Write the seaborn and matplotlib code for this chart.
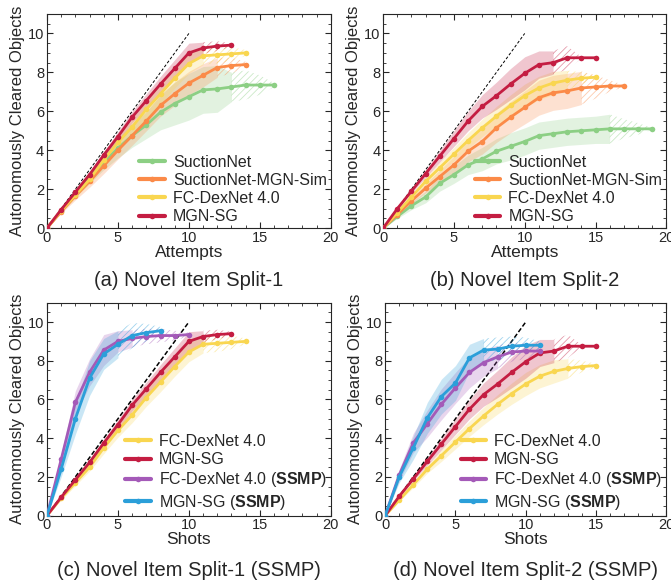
import numpy as np
import seaborn as sns
import matplotlib.pyplot as plt
from matplotlib.ticker import MultipleLocator

sns.set_style("ticks")
plt.rcParams['font.family'] = ['Liberation Sans', 'DejaVu Sans']
plt.rcParams['mathtext.fontset'] = 'custom'
plt.rcParams['mathtext.bf'] = 'Liberation Sans:bold'
plt.rcParams['hatch.linewidth'] = 0.6
plt.rcParams['xtick.direction'] = 'in'
plt.rcParams['ytick.direction'] = 'in'
plt.rcParams['xtick.top'] = True
plt.rcParams['ytick.right'] = True

GREEN, ORANGE, YELLOW, RED = '#8ccf84', '#fb8a48', '#f9d650', '#c41d42'
PURPLE, BLUE = '#a45ab8', '#2b9fd9'

# ---- data (mean, band half-width, index where hatched part starts) ----
# split-1
suction_1 = [0, 0.9, 1.8, 2.6, 3.4, 4.1, 4.75, 5.3, 5.95, 6.4, 6.75, 7.1, 7.15, 7.25, 7.35, 7.35, 7.35]
suction_1_sd = [0, 0.1, 0.2, 0.3, 0.4, 0.5, 0.6, 0.7, 0.9, 1.1, 1.2, 1.2, 1.2, 0.75, 0.75, 0.5, 0.1]
suctionmgn_1 = [0, 0.85, 1.65, 2.4, 3.2, 4.0, 4.75, 5.5, 6.3, 6.9, 7.45, 7.85, 8.25, 8.35, 8.4]
suctionmgn_1_sd = [0, 0.1, 0.2, 0.3, 0.4, 0.45, 0.5, 0.5, 0.55, 0.6, 0.6, 0.6, 0.5, 0.4, 0.15]
dexnet_1 = [0, 0.9, 1.7, 2.5, 3.5, 4.4, 5.2, 6.1, 6.9, 7.7, 8.45, 8.85, 8.9, 8.95, 9.0]
dexnet_1_sd = [0, 0.1, 0.15, 0.2, 0.3, 0.35, 0.4, 0.45, 0.5, 0.5, 0.5, 0.45, 0.45, 0.35, 0.15]
mgnsg_1 = [0, 0.95, 1.85, 2.75, 3.75, 4.7, 5.7, 6.55, 7.4, 8.2, 9.0, 9.25, 9.35, 9.4]
mgnsg_1_sd = [0, 0.05, 0.1, 0.15, 0.2, 0.25, 0.3, 0.35, 0.4, 0.45, 0.5, 0.3, 0.25, 0.1]
dexnet_ssmp_1 = [0, 2.9, 5.85, 7.4, 8.55, 9.0, 9.15, 9.25, 9.3, 9.3, 9.35]
dexnet_ssmp_1_sd = [0, 0.3, 0.6, 0.7, 0.8, 0.55, 0.45, 0.4, 0.35, 0.25, 0.1]
mgnsg_ssmp_1 = [0, 2.4, 5.0, 7.1, 8.35, 8.85, 9.3, 9.45, 9.55]
mgnsg_ssmp_1_sd = [0, 0.4, 0.8, 0.9, 0.8, 0.7, 0.65, 0.45, 0.2]

# split-2
suction_2 = [0, 0.6, 1.15, 1.6, 2.3, 2.75, 3.25, 3.55, 3.95, 4.2, 4.45, 4.75, 4.85, 4.95, 5.0, 5.05, 5.1, 5.1, 5.1, 5.1]
suction_2_sd = [0, 0.1, 0.2, 0.3, 0.4, 0.45, 0.5, 0.6, 0.65, 0.7, 0.7, 0.7, 0.7, 0.7, 0.7, 0.7, 0.75, 0.5, 0.3, 0.05]
suctionmgn_2 = [0, 0.7, 1.4, 2.05, 2.65, 3.25, 3.95, 4.45, 5.15, 5.7, 6.2, 6.7, 6.95, 7.05, 7.2, 7.25, 7.3, 7.3]
suctionmgn_2_sd = [0, 0.1, 0.15, 0.25, 0.35, 0.45, 0.55, 0.65, 0.75, 0.8, 0.85, 0.9, 0.9, 0.9, 0.85, 0.6, 0.3, 0.05]
dexnet_2 = [0, 0.8, 1.6, 2.4, 3.1, 3.8, 4.5, 5.15, 5.75, 6.3, 6.8, 7.2, 7.45, 7.6, 7.7, 7.75]
dexnet_2_sd = [0, 0.05, 0.15, 0.2, 0.3, 0.35, 0.4, 0.45, 0.5, 0.55, 0.6, 0.6, 0.6, 0.5, 0.3, 0.1]
mgnsg_2 = [0, 1.0, 1.9, 2.8, 3.7, 4.6, 5.5, 6.25, 6.8, 7.4, 7.95, 8.4, 8.5, 8.75, 8.75, 8.75]
mgnsg_2_sd = [0, 0.05, 0.1, 0.2, 0.3, 0.4, 0.5, 0.6, 0.7, 0.8, 0.85, 0.7, 0.6, 0.6, 0.05, 0.0]
dexnet_ssmp_2 = [0, 2.1, 3.75, 4.75, 5.75, 6.6, 7.4, 7.9, 8.2, 8.45, 8.5, 8.5]
dexnet_ssmp_2_sd = [0, 0.3, 0.5, 0.7, 0.8, 0.8, 0.8, 0.7, 0.6, 0.5, 0.4, 0.25]
mgnsg_ssmp_2 = [0, 2.0, 3.5, 5.05, 6.15, 6.85, 8.15, 8.55, 8.6, 8.75, 8.8, 8.8]
mgnsg_ssmp_2_sd = [0, 0.3, 0.6, 0.8, 0.9, 0.9, 0.7, 0.6, 0.6, 0.5, 0.4, 0.2]

NAMES = ['SuctionNet', 'SuctionNet-MGN-Sim', 'FC-DexNet 4.0', 'MGN-SG',
         r'FC-DexNet 4.0 ($\bf{SSMP}$)', r'MGN-SG ($\bf{SSMP}$)']

panels = [
    ('(a) Novel Item Split-1', 'Attempts', [
        (NAMES[0], GREEN, suction_1, suction_1_sd, 13),
        (NAMES[1], ORANGE, suctionmgn_1, suctionmgn_1_sd, 12),
        (NAMES[2], YELLOW, dexnet_1, dexnet_1_sd, 11),
        (NAMES[3], RED, mgnsg_1, mgnsg_1_sd, 11)]),
    ('(b) Novel Item Split-2', 'Attempts', [
        (NAMES[0], GREEN, suction_2, suction_2_sd, 16),
        (NAMES[1], ORANGE, suctionmgn_2, suctionmgn_2_sd, 14),
        (NAMES[2], YELLOW, dexnet_2, dexnet_2_sd, 13),
        (NAMES[3], RED, mgnsg_2, mgnsg_2_sd, 12)]),
    ('(c) Novel Item Split-1 (SSMP)', 'Shots', [
        (NAMES[2], YELLOW, dexnet_1, dexnet_1_sd, 11),
        (NAMES[3], RED, mgnsg_1, mgnsg_1_sd, 11),
        (NAMES[4], PURPLE, dexnet_ssmp_1, dexnet_ssmp_1_sd, 6),
        (NAMES[5], BLUE, mgnsg_ssmp_1, mgnsg_ssmp_1_sd, 5)]),
    ('(d) Novel Item Split-2 (SSMP)', 'Shots', [
        (NAMES[2], YELLOW, dexnet_2, dexnet_2_sd, 13),
        (NAMES[3], RED, mgnsg_2, mgnsg_2_sd, 12),
        (NAMES[4], PURPLE, dexnet_ssmp_2, dexnet_ssmp_2_sd, 8),
        (NAMES[5], BLUE, mgnsg_ssmp_2, mgnsg_ssmp_2_sd, 7)]),
]

fig = plt.figure(figsize=(6.71, 5.82), dpi=100)
rects = [[0.070, 0.608, 0.423, 0.368], [0.571, 0.608, 0.422, 0.368],
         [0.070, 0.114, 0.423, 0.366], [0.574, 0.114, 0.419, 0.366]]
caption_y = [0.508, 0.508, 0.010, 0.010]

for i, (caption, xlab, series) in enumerate(panels):
    ax = fig.add_axes(rects[i])
    ssmp = i >= 2
    ax.plot([0, 10], [0, 10], color='black', ls='--',
            lw=1.1 if ssmp else 0.7, dashes=(3, 1.5) if ssmp else (3, 2), zorder=1)
    for name, col, y, sd, h in series:
        y = np.array(y)
        sd = np.array(sd)
        x = np.arange(len(y))
        ax.fill_between(x[:h + 1], (y - sd)[:h + 1], (y + sd)[:h + 1],
                        color=col, alpha=0.25, lw=0, zorder=2)
        ax.fill_between(x[h:], (y - sd)[h:], (y + sd)[h:], facecolor='none',
                        edgecolor=col, alpha=0.45, hatch='/////', lw=0, zorder=2)
        sns.lineplot(x=x, y=y, ax=ax, color=col, lw=2, marker='o', ms=4,
                     markeredgewidth=0, label=name, zorder=3)
    ax.set_xlim(0, 20)
    ax.set_ylim(0, 11)
    ax.xaxis.set_major_locator(MultipleLocator(5))
    ax.xaxis.set_minor_locator(MultipleLocator(1))
    ax.yaxis.set_major_locator(MultipleLocator(2))
    ax.yaxis.set_minor_locator(MultipleLocator(0.5))
    ax.tick_params(which='major', length=4, width=0.8, labelsize=10.5, pad=2)
    ax.tick_params(which='minor', length=2, width=0.6)
    for s in ax.spines.values():
        s.set_linewidth(0.8)
    ax.set_xlabel(xlab, fontsize=12.5, labelpad=0)
    ax.set_ylabel('Autonomously Cleared Objects', fontsize=12, labelpad=2)
    leg = ax.legend(loc='lower right', frameon=False, fontsize=11.5,
                    handlelength=1.6, handletextpad=0.5, labelspacing=0.2,
                    borderaxespad=0.05, borderpad=0.2)
    for ln in leg.get_lines():
        ln.set_linewidth(3)
    pos = ax.get_position()
    fig.text(pos.x0 + pos.width / 2, caption_y[i], caption,
             ha='center', va='baseline', fontsize=14.5)

fig.savefig('out.png', dpi=100)
